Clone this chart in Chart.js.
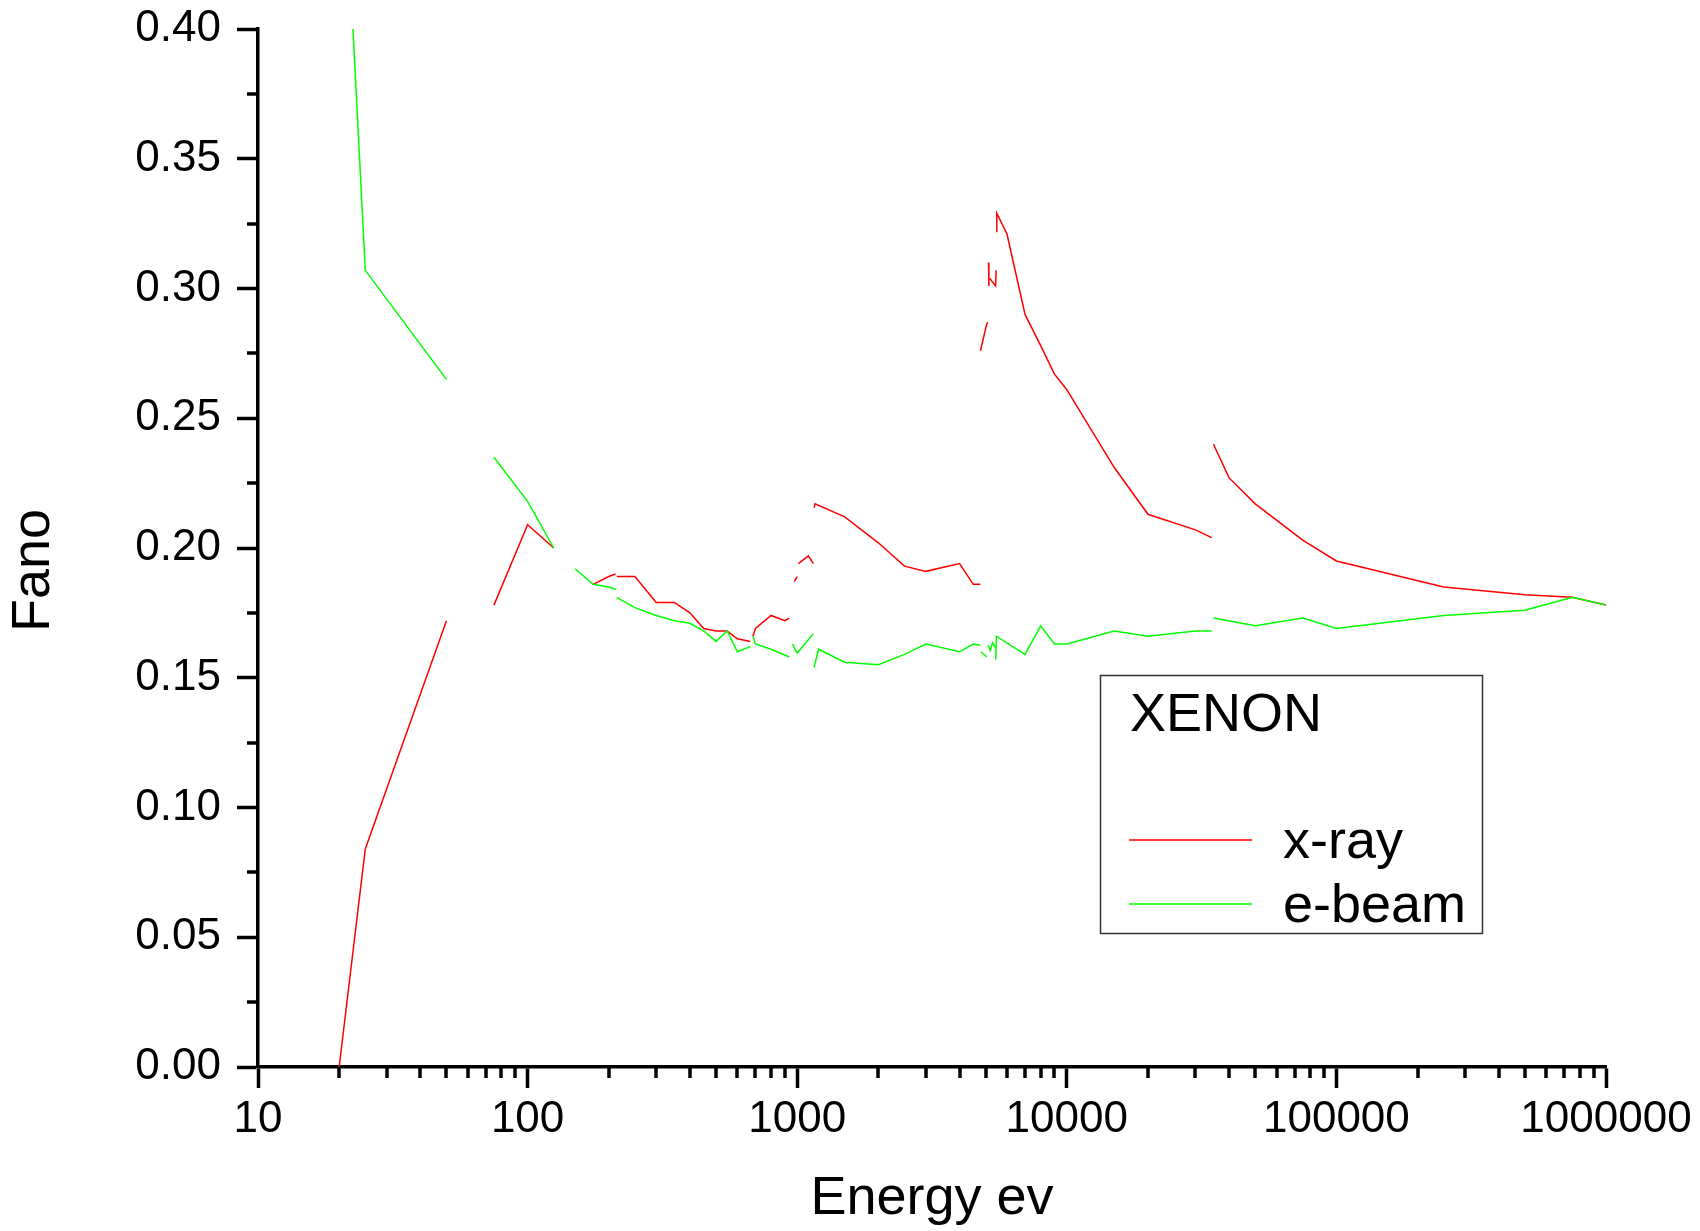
<!DOCTYPE html>
<html>
<head>
<meta charset="utf-8">
<title>Fano - XENON</title>
<script src="https://cdn.jsdelivr.net/npm/chart.js@4.4.0/dist/chart.umd.min.js"></script>
<style>
  body { margin: 0; background: #fff; }
  canvas { display: block; }
</style>
</head>
<body>
<canvas id="grafico-fano" width="1700" height="1231"></canvas>
<script>
// Dados (null = interrupção da linha)
const xrayEnergy = [20, 25, 50, null, 75, 100, 125, null, 175, 200, 212, null,
    214, 250, 300, 350, 400, 450, 500, 550, 600, 670, null,
    685, 700, 800, 900, 935, null, 975, 1000, null, 1010, 1100, 1148, null,
    1155, 1165, 1500, 2000, 2500, 3000, 4000, 4500, 4780, null,
    4785, 5050, 5100, null, 5125, 5140, null, 5170, 5443, 5470, null,
    5475, 5500, 6000, 7000, 8000, 9000, 10000, 15000, 20000, 30000, 34500, null,
    35000, 40000, 50000, 75000, 100000, 250000, 500000, 750000, 1000000];
const xrayFano = [0, 0.084, 0.172, null, 0.178, 0.209, 0.200, null, 0.186, 0.189, 0.190, null,
    0.189, 0.189, 0.179, 0.179, 0.175, 0.169, 0.168, 0.168, 0.165, 0.164, null,
    0.166, 0.169, 0.174, 0.172, 0.173, null, 0.187, 0.189, null, 0.194, 0.197, 0.194, null,
    0.2155, 0.217, 0.212, 0.202, 0.193, 0.191, 0.194, 0.186, 0.186, null,
    0.276, 0.2865, 0.287, null, 0.310, 0.301, null, 0.304, 0.301, 0.307, null,
    0.322, 0.329, 0.321, 0.290, 0.278, 0.267, 0.261, 0.231, 0.213, 0.207, 0.204, null,
    0.240, 0.227, 0.217, 0.203, 0.195, 0.185, 0.182, 0.181, 0.178];

const ebeamEnergy = [22.5, 25, 50, null, 75, 100, 125, null, 150, 175, 200, 213, null,
    214, 250, 300, 350, 400, 450, 500, 550, 600, 672, null,
    685, 700, 800, 935, null, 960, 1000, 1148, null,
    1155, 1200, 1500, 2000, 2500, 3000, 4000, 4500, 4780, null,
    4800, 5050, null, 5110, 5200, 5300, 5440, null,
    5450, 5480, 7000, 8000, 9000, 10000, 15000, 20000, 30000, 34500, null,
    35000, 50000, 75000, 100000, 250000, 500000, 750000, 1000000];
const ebeamFano = [0.400, 0.307, 0.265, null, 0.235, 0.218, 0.200, null, 0.192, 0.186, 0.185, 0.184, null,
    0.181, 0.177, 0.174, 0.172, 0.171, 0.168, 0.164, 0.168, 0.160, 0.162, null,
    0.166, 0.163, 0.161, 0.158, null, 0.163, 0.1595, 0.167, null,
    0.154, 0.161, 0.156, 0.155, 0.159, 0.163, 0.160, 0.163, 0.1625, null,
    0.160, 0.158, null, 0.1625, 0.1605, 0.1635, 0.1615, null,
    0.157, 0.166, 0.159, 0.170, 0.163, 0.163, 0.168, 0.166, 0.168, 0.168, null,
    0.173, 0.170, 0.173, 0.169, 0.174, 0.176, 0.181, 0.178];

const xTickValues = [10, 100, 1000, 10000, 100000, 1000000];
const yTickValues = [0, 0.05, 0.10, 0.15, 0.20, 0.25, 0.30, 0.35, 0.40];

const fonte = "'Liberation Sans', Arial, sans-serif";
Chart.defaults.color = '#000';
Chart.defaults.font.family = fonte;

function pontos(energia, fano) {
    return energia.map((e, i) => ({ x: e, y: fano[i] }));
}

// Traços menores dos eixos (mais curtos que os principais)
const tracosMenores = {
    id: 'tracosMenores',
    afterDraw(chart) {
        const { ctx, scales: { x, y } } = chart;
        ctx.save();
        ctx.strokeStyle = '#000';
        ctx.lineWidth = 3.5;
        for (let d = 1; d < 6; d++) {
            for (let k = 2; k < 10; k++) {
                const px = Math.round(x.getPixelForValue(k * Math.pow(10, d)));
                ctx.beginPath();
                ctx.moveTo(px, x.top);
                ctx.lineTo(px, x.top + 11);
                ctx.stroke();
            }
        }
        for (let i = 0; i < yTickValues.length - 1; i++) {
            const py = Math.round(y.getPixelForValue((yTickValues[i] + yTickValues[i + 1]) / 2));
            ctx.beginPath();
            ctx.moveTo(y.right, py);
            ctx.lineTo(y.right - 11, py);
            ctx.stroke();
        }
        ctx.restore();
    }
};

// Legenda em caixa com o título XENON
const caixaLegenda = {
    id: 'caixaLegenda',
    afterDraw(chart) {
        const ctx = chart.ctx;
        const left = 1100, top = 675, width = 382, height = 258;
        ctx.save();
        ctx.fillStyle = '#fff';
        ctx.fillRect(left, top, width, height);
        ctx.strokeStyle = '#333';
        ctx.lineWidth = 1.5;
        ctx.strokeRect(left + 0.5, top + 0.5, width, height);
        ctx.fillStyle = '#000';
        ctx.font = '54px ' + fonte;
        ctx.textBaseline = 'alphabetic';
        ctx.fillText('XENON', left + 30, top + 56);
        chart.data.datasets.forEach((ds, i) => {
            const yLinha = top + 165 + i * 64;
            ctx.strokeStyle = ds.borderColor;
            ctx.lineWidth = 1.5;
            ctx.beginPath();
            ctx.moveTo(left + 29, yLinha);
            ctx.lineTo(left + 152, yLinha);
            ctx.stroke();
            ctx.fillText(ds.label, left + 183, yLinha + 18);
        });
        ctx.restore();
    }
};

const eixoGrade = { drawOnChartArea: false, tickLength: 21, tickWidth: 3.5, tickColor: '#000', color: '#000' };
const eixoBorda = { color: '#000', width: 3.5 };

new Chart(document.getElementById('grafico-fano'), {
    type: 'line',
    data: {
        datasets: [
            { label: 'x-ray', data: pontos(xrayEnergy, xrayFano), borderColor: '#ff0000', order: 1 },
            { label: 'e-beam', data: pontos(ebeamEnergy, ebeamFano), borderColor: '#00ff00', order: 0 }
        ]
    },
    options: {
        responsive: false,
        animation: false,
        devicePixelRatio: 1,
        spanGaps: false,
        elements: {
            point: { radius: 0 },
            line: { borderWidth: 1.5, tension: 0, fill: false }
        },
        layout: { padding: { top: 29, right: 94, left: 0, bottom: 0 } },
        plugins: { legend: { display: false }, tooltip: { enabled: false } },
        scales: {
            x: {
                type: 'logarithmic',
                min: 10,
                max: 1000000,
                afterBuildTicks: s => { s.ticks = xTickValues.map(v => ({ value: v })); },
                afterFit: s => { s.height = 164; },
                ticks: { callback: v => String(v), font: { size: 44 }, padding: 5, maxRotation: 0, autoSkip: false },
                grid: eixoGrade,
                border: eixoBorda,
                title: { display: true, text: 'Energy ev', font: { size: 54, lineHeight: 1 }, padding: { top: 0, bottom: 5 } }
            },
            y: {
                min: 0,
                max: 0.4,
                afterBuildTicks: s => { s.ticks = yTickValues.map(v => ({ value: v })); },
                afterFit: s => { s.width = 258; s.paddingTop = 0; s.paddingBottom = 0; },
                ticks: { callback: v => v.toFixed(2), font: { size: 44 }, padding: 16 },
                grid: eixoGrade,
                border: eixoBorda,
                title: { display: true, text: 'Fano   ', font: { size: 54, lineHeight: 1 }, padding: { top: 7, bottom: 0 } }
            }
        }
    },
    plugins: [tracosMenores, caixaLegenda]
});
</script>
</body>
</html>
